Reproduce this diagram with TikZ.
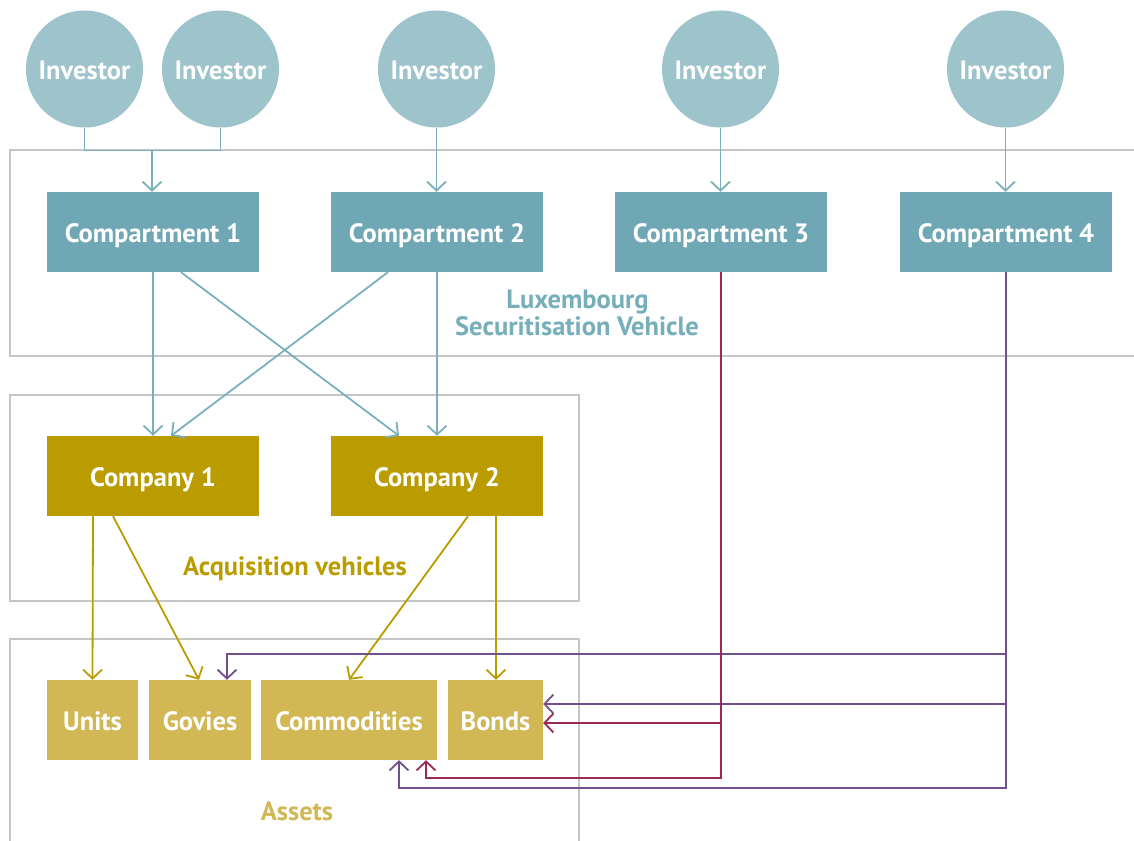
\documentclass[tikz,border=0pt]{standalone}
\usepackage{fontspec}
\setmainfont{PT Sans}
\usetikzlibrary{arrows.meta,calc}
\definecolor{invc}{HTML}{9DC3CB}
\definecolor{compc}{HTML}{6FA8B4}
\definecolor{tealline}{HTML}{7AB0BA}
\definecolor{lsvtext}{HTML}{76AEBA}
\definecolor{compyc}{HTML}{BA9B00}
\definecolor{assetc}{HTML}{D2B755}
\definecolor{goldline}{HTML}{BB9C00}
\definecolor{purl}{HTML}{74508A}
\definecolor{crim}{HTML}{9C2856}
\definecolor{grayb}{HTML}{C6C6C6}
\tikzset{
  lab/.style={font=\fontsize{26.5}{28}\selectfont\bfseries, text=white, text height=20.5pt, text depth=0pt},
  investor/.style={circle, fill=invc, minimum size=117pt, inner sep=0pt, lab},
  compbox/.style={rectangle, fill=compc, minimum width=212pt, minimum height=80pt, inner sep=0pt, lab},
  companybox/.style={rectangle, fill=compyc, minimum width=212pt, minimum height=80pt, inner sep=0pt, lab},
  assetbox/.style={rectangle, fill=assetc, minimum height=80pt, inner sep=0pt, lab},
  group/.style={draw=grayb, line width=1.8pt},
  grouplabel/.style={font=\fontsize{26.5}{27}\selectfont\bfseries, inner sep=0pt},
  tip/.style={-{Straight Barb[length=9pt,width=19pt,line width=1.8pt]}},
  tealc/.style={draw=tealline, line width=1.8pt},
  goldc/.style={draw=goldline, line width=1.8pt},
  purc/.style={draw=purl, line width=1.8pt},
  crimc/.style={draw=crim, line width=1.8pt},
}
\begin{document}
\begin{tikzpicture}[x=1pt,y=-1pt]
\useasboundingbox (0,0) rectangle (1134,840);
\clip (0,0) rectangle (1134,840);
% group frames
\draw[group] (10,150) rectangle (1160,356);
\draw[group] (10,395) rectangle (579,601);
\draw[group] (10,639) rectangle (579,880);
% investors
\node[investor] (inv1) at (84.5,69) {Investor};
\node[investor] (inv2) at (220.5,69) {Investor};
\node[investor] (inv3) at (436.5,69) {Investor};
\node[investor] (inv4) at (720.5,69) {Investor};
\node[investor] (inv5) at (1005.5,69) {Investor};
% compartments
\node[compbox] (c1) at (153,232) {Compartment 1};
\node[compbox] (c2) at (437,232) {Compartment 2};
\node[compbox] (c3) at (721,232) {Compartment 3};
\node[compbox] (c4) at (1006,232) {Compartment 4};
% companies
\node[companybox] (co1) at (153,476) {Company 1};
\node[companybox] (co2) at (437,476) {Company 2};
% assets
\node[assetbox, minimum width=91pt] (units) at (92.5,720) {Units};
\node[assetbox, minimum width=102pt] (govies) at (200,720) {Govies};
\node[assetbox, minimum width=176pt] (comm) at (349,720) {Commodities};
\node[assetbox, minimum width=95pt] (bonds) at (495.5,720) {Bonds};
% group labels
\node[grouplabel, text=lsvtext, anchor=base] (lsvlab1) at (577.5,308) {Luxembourg};
\node[grouplabel, text=lsvtext, anchor=base] (lsvlab2) at (577,335) {Securitisation Vehicle};
\node[grouplabel, text=goldline, anchor=base] (acqlab) at (295,575) {Acquisition vehicles};
\node[grouplabel, text=assetc, anchor=base] (asslab) at (297,820) {Assets};
% investor connectors
\coordinate (j1) at (152,150.5);
\draw[tealc] (inv1.south) |- (j1) -| (inv2.south);
\draw[tealc,tip] (j1) -- (c1.north -| j1);
\draw[tealc,tip] (inv3.south) -- (inv3.south |- c2.north);
\draw[tealc,tip] (inv4.south) -- (inv4.south |- c3.north);
\draw[tealc,tip] (inv5.south) -- (inv5.south |- c4.north);
% compartments to companies
\draw[tealc,tip] (c1.south) -- (co1.north);
\draw[tealc,tip] ($(c1.south)+(28,0)$) -- ($(co2.north)+(-38,0)$);
\draw[tealc,tip] ($(c2.south)+(-49,0)$) -- ($(co1.north)+(18,0)$);
\draw[tealc,tip] (c2.south) -- (co2.north);
% companies to assets
\draw[goldc,tip] ($(co1.south)+(-60,0)$) -- (units.north);
\draw[goldc,tip] ($(co1.south)+(-40,0)$) -- ($(govies.north)+(-1,0)$);
\draw[goldc,tip] ($(co2.south)+(31,0)$) -- (comm.north);
\draw[goldc,tip] ($(co2.south)+(59,0)$) -- ($(bonds.north)+(0.5,0)$);
% compartment 4 (purple)
\draw[purc,tip] (c4.south) |- ($(govies.north)+(27,-26)$) -- ($(govies.north)+(27,0)$);
\draw[purc,tip] (c4.south) |- ($(bonds.east)+(0,-16)$);
\draw[purc,tip] (c4.south) |- ($(comm.south)+(50,28)$) -- ($(comm.south)+(50,0)$);
% compartment 3 (crimson)
\draw[crimc,tip] (c3.south) |- ($(bonds.east)+(0,3)$);
\draw[crimc,tip] (c3.south) |- ($(comm.south)+(77,18)$) -- ($(comm.south)+(77,0)$);
\end{tikzpicture}
\end{document}
